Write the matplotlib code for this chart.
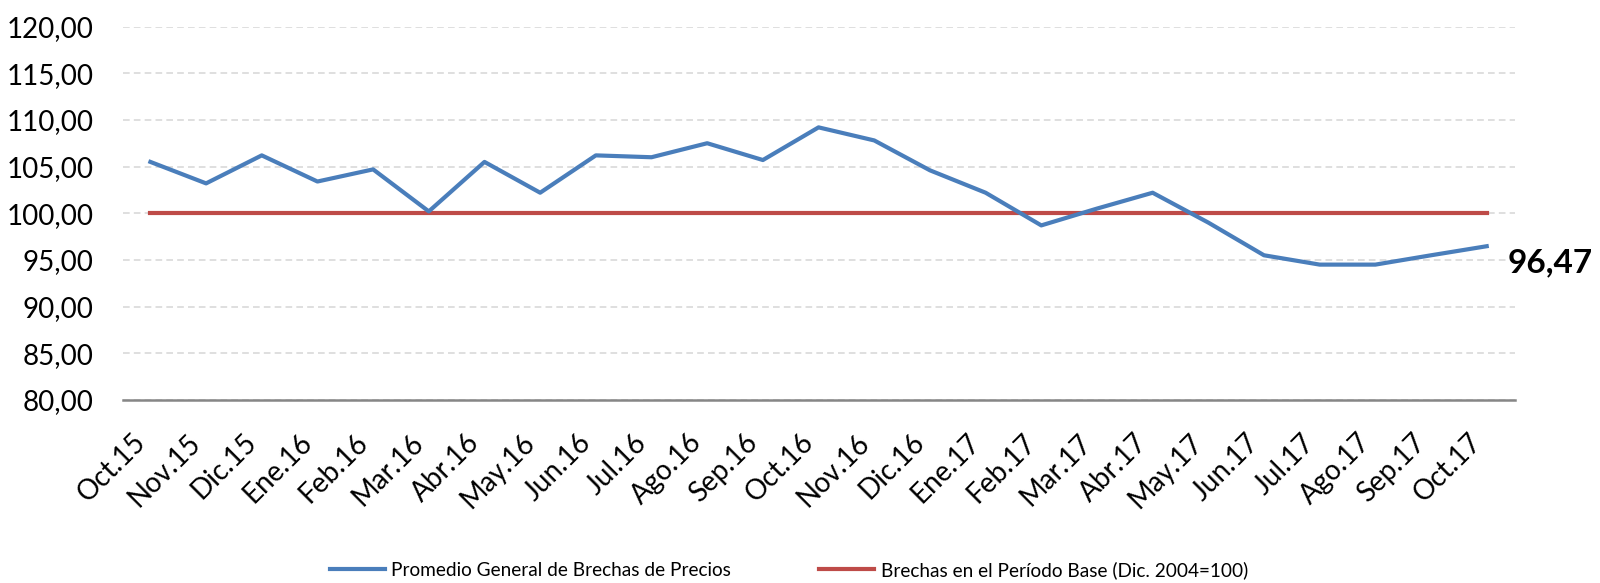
import matplotlib
matplotlib.use("Agg")
import matplotlib.pyplot as plt
from matplotlib.ticker import FuncFormatter, MultipleLocator

# datos
meses = ["Oct.15", "Nov.15", "Dic.15", "Ene.16", "Feb.16", "Mar.16", "Abr.16",
         "May.16", "Jun.16", "Jul.16", "Ago.16", "Sep.16", "Oct.16", "Nov.16",
         "Dic.16", "Ene.17", "Feb.17", "Mar.17", "Abr.17", "May.17", "Jun.17",
         "Jul.17", "Ago.17", "Sep.17", "Oct.17"]
promedio = [105.5, 103.2, 106.2, 103.4, 104.7, 100.2, 105.5, 102.2, 106.2,
            106.0, 107.5, 105.7, 109.2, 107.8, 104.6, 102.2, 98.7, 100.5,
            102.2, 99.0, 95.5, 94.5, 94.5, 95.5, 96.47]
base = [100.0] * len(meses)

lbl_promedio = "Promedio General de Brechas de Precios"
lbl_base = "Brechas en el Período Base (Dic. 2004=100)"

plt.rcParams['font.family'] = ['Lato', 'DejaVu Sans']

fig = plt.figure(figsize=(16, 5.83), dpi=100)
ax = fig.add_axes([0.0766, 0.3139, 0.870, 0.6406])

x = range(len(meses))
ax.plot(x, promedio, color='#4A7EBB', linewidth=3.0, label=lbl_promedio, zorder=3)
ax.plot(x, base, color='#BE4B48', linewidth=3.0, label=lbl_base, zorder=2)

# etiqueta del ultimo valor
ax.annotate(f"{promedio[-1]:.2f}".replace('.', ','), xy=(len(meses) - 1, promedio[-1]),
            xytext=(21, -17), textcoords='offset pixels', ha='left', va='center',
            fontsize=24, fontweight='bold', annotation_clip=False)

ax.set_xlim(-0.5, len(meses) - 0.5)
ax.set_ylim(80, 120)
ax.yaxis.set_major_locator(MultipleLocator(5))
ax.yaxis.set_major_formatter(FuncFormatter(lambda v, _: f"{v:.2f}".replace('.', ',')))
ax.set_xticks(list(x))
ax.set_xticklabels(meses, rotation=45, ha='right', va='top')

ax.tick_params(axis='y', length=0, pad=21, labelsize=20)
ax.tick_params(axis='x', length=0, pad=21, labelsize=20)

ax.grid(axis='y', color='#D9D9D9', linestyle=(0, (4, 2.5)), linewidth=1.2)
ax.set_axisbelow(True)
for s in ['top', 'right', 'left']:
    ax.spines[s].set_visible(False)
ax.spines['bottom'].set_color('#868686')
ax.spines['bottom'].set_linewidth(1.8)
ax.spines['bottom'].set_zorder(1)

fig.legend(loc='center', bbox_to_anchor=(0.493, 0.022), ncol=2, frameon=False,
           fontsize=13.7, handlelength=2.9, handletextpad=0.35, columnspacing=4.6)

fig.savefig('out.png', dpi=100)
plt.close(fig)
